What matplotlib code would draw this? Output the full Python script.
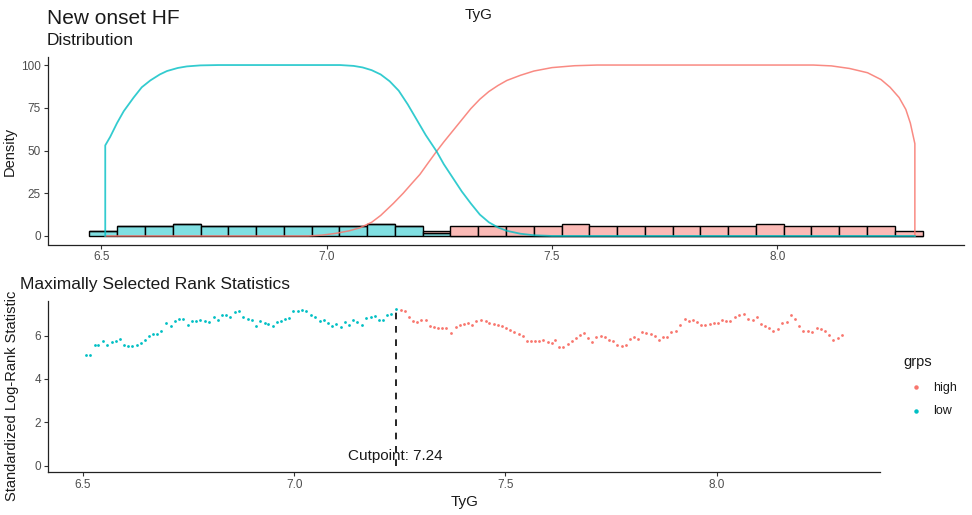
import numpy as np
import matplotlib
matplotlib.use("Agg")
import matplotlib.pyplot as plt
from matplotlib.lines import Line2D

plt.rcParams['font.family'] = ['Liberation Sans', 'DejaVu Sans']

HIGH_COL = '#F8766D'
LOW_COL = '#00BFC4'
HIGH_FILL = '#FBBAB6'
LOW_FILL = '#80DFE2'

# ---- histogram (30 bins over the TyG range) ----
hist_min, hist_max = 6.474, 8.322
low_counts = [3, 6, 6, 7, 6, 6, 6, 6, 6, 6, 7, 6, 2, 0, 0, 0, 0, 0, 0, 0, 0, 0, 0, 0, 0, 0, 0, 0, 0, 0]
high_counts = [0, 0, 0, 0, 0, 0, 0, 0, 0, 0, 0, 0, 1, 6, 6, 6, 6, 7, 6, 6, 6, 6, 6, 6, 7, 6, 6, 6, 6, 3]

# ---- density curves ----
low_dens_x = [6.509, 6.509, 6.520, 6.535, 6.550, 6.572, 6.590, 6.609, 6.630, 6.646, 6.670, 6.690,
              6.720, 6.760, 7.030, 7.060, 7.080, 7.100, 7.120, 7.140, 7.160, 7.180, 7.200, 7.220,
              7.244, 7.260, 7.280, 7.300, 7.320, 7.340, 7.360, 7.380, 7.400, 7.430, 7.460, 7.500, 8.305]
low_dens_y = [0, 53, 58, 66, 73, 81, 87, 91, 94.5, 96.5, 98.3, 99.2,
              99.8, 100, 100, 99.5, 98.6, 97, 94.5, 90.5, 85, 77, 68, 59,
              49.5, 42, 34, 26, 19, 12.5, 8, 5, 3, 1.3, 0.4, 0, 0]
high_dens_x = [6.509, 6.960, 6.990, 7.020, 7.050, 7.074, 7.100, 7.120, 7.148, 7.170, 7.190, 7.207,
               7.226, 7.244, 7.260, 7.280, 7.300, 7.320, 7.340, 7.360, 7.380, 7.400, 7.430, 7.460,
               7.500, 7.550, 7.600, 8.080, 8.120, 8.160, 8.200, 8.230, 8.250, 8.270, 8.285, 8.295,
               8.305, 8.305]
high_dens_y = [0, 0, 0.5, 1.5, 3, 4.8, 8, 12, 19, 25, 31, 36,
               43, 49.5, 55, 61.5, 68, 74.5, 80, 84.5, 88, 91, 94, 96.5,
               98.5, 99.6, 100, 100, 99.5, 98, 95.5, 91.5, 87, 81, 74, 66,
               54, 0]

# ---- maximally selected rank statistics ----
low_x = [6.507, 6.517, 6.529, 6.537, 6.548, 6.558, 6.568, 6.578, 6.587, 6.597, 6.608, 6.617, 6.627,
         6.637, 6.647, 6.656, 6.666, 6.676, 6.686, 6.697, 6.708, 6.718, 6.727, 6.737, 6.749, 6.759,
         6.768, 6.778, 6.788, 6.798, 6.810, 6.820, 6.829, 6.839, 6.849, 6.859, 6.869, 6.880, 6.891,
         6.900, 6.910, 6.920, 6.930, 6.939, 6.949, 6.959, 6.969, 6.979, 6.988, 6.998, 7.009, 7.018,
         7.028, 7.040, 7.050, 7.061, 7.071, 7.081, 7.090, 7.099, 7.110, 7.120, 7.130, 7.140, 7.149,
         7.160, 7.171, 7.181, 7.191, 7.201, 7.211, 7.220, 7.230, 7.241]
low_stat = [5.09, 5.12, 5.58, 5.58, 5.77, 5.58, 5.69, 5.74, 5.85, 5.58, 5.51, 5.51, 5.58,
            5.66, 5.81, 5.97, 6.08, 6.08, 6.20, 6.59, 6.43, 6.69, 6.78, 6.78, 6.51, 6.66,
            6.69, 6.74, 6.69, 6.63, 6.85, 6.74, 6.94, 6.97, 6.85, 7.09, 7.15, 6.85, 6.78,
            6.74, 6.43, 6.66, 6.59, 6.54, 6.43, 6.63, 6.69, 6.78, 6.82, 7.12, 7.12, 7.20,
            7.12, 6.94, 6.85, 6.69, 6.74, 6.59, 6.43, 6.54, 6.38, 6.63, 6.51, 6.74, 6.63,
            6.51, 6.82, 6.85, 6.89, 6.74, 6.74, 6.94, 7.00, 7.25]
high_x = [7.252, 7.262, 7.272, 7.281, 7.291, 7.301, 7.311, 7.321, 7.330, 7.340, 7.351, 7.360, 7.372,
          7.382, 7.392, 7.401, 7.411, 7.421, 7.431, 7.443, 7.453, 7.462, 7.472, 7.482, 7.492, 7.502,
          7.511, 7.521, 7.531, 7.541, 7.550, 7.561, 7.571, 7.580, 7.590, 7.600, 7.610, 7.618, 7.627,
          7.637, 7.647, 7.657, 7.667, 7.676, 7.686, 7.696, 7.704, 7.715, 7.726, 7.736, 7.745, 7.755,
          7.765, 7.775, 7.785, 7.794, 7.804, 7.814, 7.824, 7.833, 7.844, 7.854, 7.863, 7.873, 7.883,
          7.893, 7.903, 7.912, 7.925, 7.934, 7.943, 7.954, 7.964, 7.973, 7.983, 7.993, 8.003, 8.012,
          8.022, 8.032, 8.044, 8.053, 8.064, 8.074, 8.085, 8.095, 8.105, 8.115, 8.124, 8.134, 8.145,
          8.154, 8.166, 8.176, 8.186, 8.195, 8.205, 8.215, 8.226, 8.237, 8.247, 8.256, 8.266, 8.276,
          8.286, 8.297]
high_stat = [7.20, 7.15, 6.85, 6.66, 6.63, 6.74, 6.74, 6.43, 6.38, 6.35, 6.35, 6.35, 6.12,
             6.38, 6.48, 6.54, 6.58, 6.48, 6.66, 6.74, 6.66, 6.58, 6.54, 6.48, 6.43, 6.35,
             6.28, 6.17, 6.08, 5.97, 5.77, 5.74, 5.74, 5.77, 5.82, 5.71, 5.66, 5.82, 5.46,
             5.46, 5.61, 5.77, 5.89, 6.02, 6.12, 5.89, 5.71, 5.92, 5.97, 5.92, 5.82, 5.77,
             5.55, 5.51, 5.55, 5.86, 5.92, 5.86, 6.17, 6.12, 6.08, 5.97, 5.82, 5.92, 5.92,
             6.17, 6.23, 6.48, 6.78, 6.69, 6.74, 6.63, 6.48, 6.48, 6.54, 6.58, 6.58, 6.74,
             6.69, 6.69, 6.85, 6.97, 7.00, 6.78, 6.74, 6.85, 6.54, 6.43, 6.35, 6.23, 6.32,
             6.58, 6.63, 6.97, 6.78, 6.43, 6.23, 6.20, 6.17, 6.35, 6.32, 6.23, 6.05, 5.82,
             5.89, 6.02]
cutpoint = 7.24

W, H = 972, 515
fig = plt.figure(figsize=(W / 100, H / 100), dpi=100)
TXT = '#1a1a1a'

def style_axes(ax):
    for s in ['top', 'right']:
        ax.spines[s].set_visible(False)
    for s in ['left', 'bottom']:
        ax.spines[s].set_color('#222222')
        ax.spines[s].set_linewidth(0.9)
    ax.tick_params(axis='both', colors='#333333', labelcolor='#4D4D4D', labelsize=8.5,
                   length=3, width=0.8, pad=2)

# top panel: distribution
ax1 = fig.add_axes([48 / W, 1 - 244.5 / H, (964 - 48) / W, (244.5 - 56.5) / H])
style_axes(ax1)
edges = np.linspace(hist_min, hist_max, len(low_counts) + 1)
bw = edges[1] - edges[0]
ax1.bar(edges[:-1], low_counts, width=bw, align='edge', color=LOW_FILL, edgecolor='black', linewidth=1.0)
ax1.bar(edges[:-1], high_counts, width=bw, bottom=low_counts, align='edge', color=HIGH_FILL,
        edgecolor='black', linewidth=1.0)
ax1.plot(high_dens_x, high_dens_y, color=HIGH_COL, lw=1.1, alpha=0.85)
ax1.plot(low_dens_x, low_dens_y, color=LOW_COL, lw=1.3, alpha=0.8)
ax1.set_xlim(6.382, 8.414)
ax1.set_ylim(-5, 105)
ax1.set_xticks([6.5, 7.0, 7.5, 8.0])
ax1.set_xticklabels(['6.5', '7.0', '7.5', '8.0'])
ax1.set_yticks([0, 25, 50, 75, 100])

# bottom panel: maximally selected rank statistics
ax2 = fig.add_axes([48 / W, 1 - 472 / H, (880 - 48) / W, (472 - 301) / H])
style_axes(ax2)
ax2.scatter(high_x, high_stat, s=4, color=HIGH_COL, linewidths=0)
ax2.scatter(low_x, low_stat, s=4, color=LOW_COL, linewidths=0)
ax2.vlines(cutpoint, 0, max(low_stat), colors='black', linestyles=(0, (4, 4)), lw=1.2)
ax2.text(cutpoint, 0.25, 'Cutpoint: 7.24', ha='center', va='baseline', fontsize=11, color=TXT)
ax2.set_xlim(6.4175, 8.3865)
ax2.set_ylim(-0.3, 7.6)
ax2.set_xticks([6.5, 7.0, 7.5, 8.0])
ax2.set_xticklabels(['6.5', '7.0', '7.5', '8.0'])
ax2.set_yticks([0, 2, 4, 6])

# axis titles
fig.text(10 / W, 1 - 151 / H, 'Density', rotation=90, fontsize=10.5, color=TXT, ha='center', va='center')
fig.text(12 / W, 1 - 396 / H, 'Standardized Log-Rank Statistic', rotation=90, fontsize=10.5,
         color=TXT, ha='center', va='center')
fig.text(465 / W, 1 - 506 / H, 'TyG', fontsize=11, color=TXT, ha='center', va='baseline')

# legend
fig.text(903 / W, 1 - 366 / H, 'grps', fontsize=10.5, color=TXT, va='baseline')
for lab, col, yb in [('high', HIGH_COL, 390.5), ('low', LOW_COL, 414.5)]:
    fig.add_artist(Line2D([916 / W], [1 - (yb - 4) / H], marker='o', ls='', markersize=2.2,
                          color=col, transform=fig.transFigure))
    fig.text(933 / W, 1 - yb / H, lab, fontsize=9, color=TXT, va='baseline')

# titles
fig.text(47 / W, 1 - 23.5 / H, 'New onset HF', fontsize=15, color=TXT, va='baseline')
fig.text(479 / W, 1 - 19.5 / H, 'TyG', fontsize=11, color=TXT, ha='center', va='baseline')
fig.text(47 / W, 1 - 45 / H, 'Distribution', fontsize=12.5, color=TXT, va='baseline')
fig.text(20 / W, 1 - 289 / H, 'Maximally Selected Rank Statistics', fontsize=12.5, color=TXT,
         va='baseline')

fig.savefig('out.png', dpi=100)
